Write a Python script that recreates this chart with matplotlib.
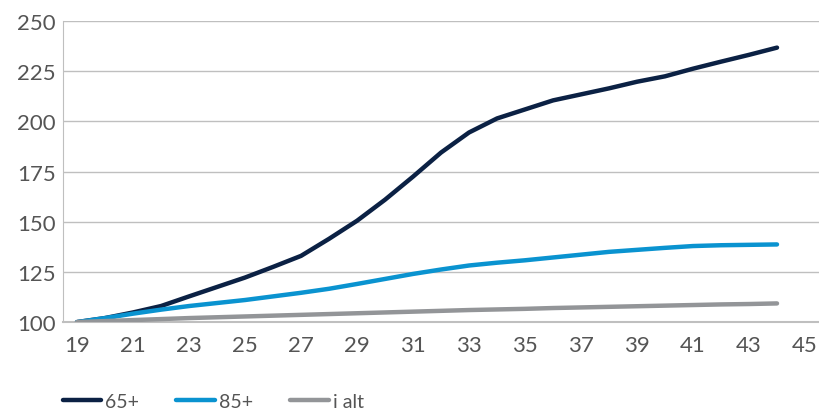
import matplotlib
matplotlib.use("Agg")
import matplotlib.pyplot as plt

# Data (index, year 19 = 100)
years = list(range(19, 45))
age_65 = [100, 102, 104.8, 108, 112.8, 117.5, 122.2, 127.5, 133, 141.5, 150.5,
          161, 172.5, 184.5, 194.5, 201.5, 206, 210.5, 213.5, 216.5, 219.8,
          222.5, 226.3, 229.8, 233.2, 236.8]
age_85 = [100, 102, 104.2, 106.2, 108, 109.5, 111, 112.8, 114.6, 116.6, 119,
          121.5, 124, 126.2, 128.2, 129.6, 130.8, 132.2, 133.6, 135, 136,
          137, 137.9, 138.3, 138.5, 138.7]
total = [100, 100.5, 101, 101.5, 102, 102.4, 102.8, 103.2, 103.6, 104, 104.4,
         104.8, 105.2, 105.6, 106, 106.3, 106.6, 107, 107.3, 107.6, 107.9,
         108.2, 108.5, 108.8, 109, 109.3]
labels = ["65+", "85+", "i alt"]
colors = ["#0B2144", "#0A93D0", "#939598"]

xticks = list(range(19, 46, 2))
yticks = [100, 125, 150, 175, 200, 225, 250]

plt.rcParams['font.family'] = ['Lato', 'DejaVu Sans']
text_color = "#555555"

fig = plt.figure(figsize=(8.19, 4.10), dpi=100)
ax = fig.add_axes([0.077, 0.212, 0.923, 0.734])

for series, label, color in zip([age_65, age_85, total], labels, colors):
    ax.plot(years, series, color=color, linewidth=3.2, label=label,
            solid_capstyle='round', solid_joinstyle='round')

ax.set_xlim(18.5, 45.5)
ax.set_ylim(100, 250)
ax.set_xticks(xticks)
ax.set_yticks(yticks)
ax.tick_params(length=0, labelsize=16, colors=text_color, pad=5)
ax.tick_params(axis='x', pad=9)
ax.grid(axis='y', color="#BFBFBF", linewidth=1)
ax.set_axisbelow(True)
for side in ['top', 'right']:
    ax.spines[side].set_visible(False)
ax.spines['left'].set_color("#BFBFBF")
ax.spines['bottom'].set_color("#BFBFBF")
ax.spines['bottom'].set_linewidth(1.5)
ax.spines['bottom'].set_zorder(0)

leg = fig.legend(loc='lower left', bbox_to_anchor=(0.055, -0.045), ncol=3,
                 frameon=False, fontsize=14, handlelength=2.0,
                 columnspacing=1.9, handletextpad=0.2)
for t in leg.get_texts():
    t.set_color(text_color)

fig.savefig("out.png", dpi=100)
